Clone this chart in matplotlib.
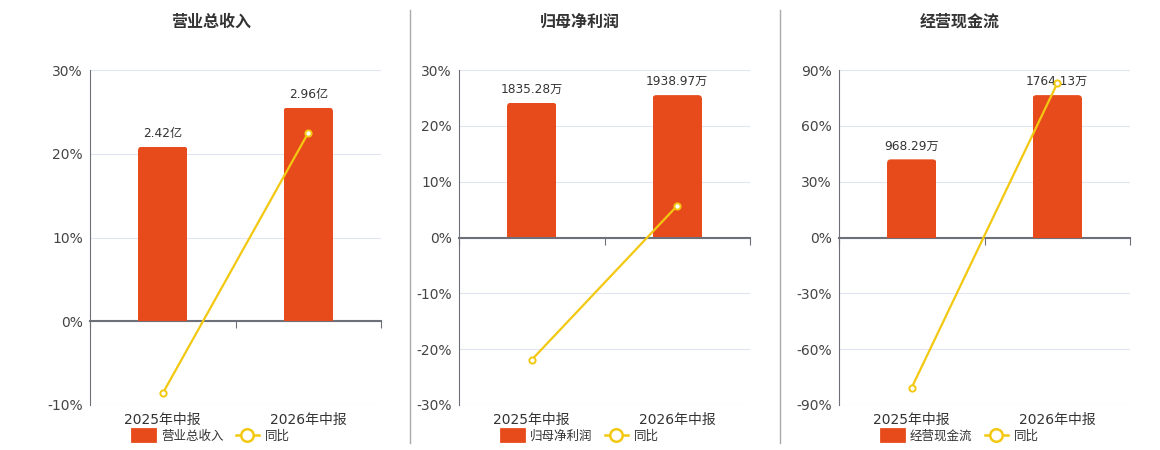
import matplotlib.pyplot as plt
import matplotlib.transforms as mtransforms
from matplotlib.lines import Line2D
from matplotlib.patches import Patch, FancyBboxPatch
import numpy as np

plt.rcParams['font.family'] = ['DejaVu Sans', 'Noto Sans CJK SC']

# data
categories = ['2025年中报', '2026年中报']
titles = ['营业总收入', '归母净利润', '经营现金流']
bar_values = [[2.42, 2.96], [1835.28, 1938.97], [968.29, 1764.13]]
bar_labels = [['2.42亿', '2.96亿'], ['1835.28万', '1938.97万'], ['968.29万', '1764.13万']]
yoy_values = [[-8.6, 22.5], [-21.9, 5.7], [-80.6, 82.8]]
pct_ticks = [[-10, 0, 10, 20, 30],
             [-30, -20, -10, 0, 10, 20, 30],
             [-90, -60, -30, 0, 30, 60, 90]]

BAR_COLOR = '#E84B1B'
LINE_COLOR = '#F2C811'
AXIS_COLOR = '#6E7079'
GRID_COLOR = '#E0E6F1'
TEXT_COLOR = '#333333'

W, H = 1160, 450
fig = plt.figure(figsize=(W / 100, H / 100), dpi=100)

panel_left = [90, 459, 839]
ax_w, ax_top, ax_bottom = 291, 70, 405
corner_px = 4

for i in range(3):
    left = panel_left[i]
    rect = [left / W, 1 - ax_bottom / H, ax_w / W, (ax_bottom - ax_top) / H]
    ax = fig.add_axes(rect)
    x = np.arange(len(categories))
    lo, hi = pct_ticks[i][0], pct_ticks[i][-1]
    xlim = (-0.5, len(categories) - 0.5)

    # percent axis with grid
    ax.set_xlim(*xlim)
    ax.set_ylim(lo, hi)
    ax.set_yticks(pct_ticks[i])
    ax.set_yticklabels(['%d%%' % t for t in pct_ticks[i]])
    ax.grid(axis='y', color=GRID_COLOR, linewidth=0.8)
    ax.set_axisbelow(True)
    ax.tick_params(axis='y', length=0, pad=5, labelsize=10, labelcolor='#444444')
    for s in ['top', 'right']:
        ax.spines[s].set_visible(False)
    ax.spines['left'].set_color(AXIS_COLOR)
    ax.spines['bottom'].set_position(('data', 0))
    ax.spines['bottom'].set_color(AXIS_COLOR)
    ax.spines['bottom'].set_linewidth(1.5)
    ax.set_xticks(np.arange(len(categories) + 1) - 0.5)
    ax.tick_params(axis='x', length=5, color=AXIS_COLOR, labelbottom=False)
    trans = mtransforms.blended_transform_factory(ax.transData, ax.transAxes)
    for xi, c in zip(x, categories):
        ax.text(xi, -0.025, c, transform=trans, ha='center', va='top',
                fontsize=10, color=TEXT_COLOR)

    # bars on a hidden axis, zero aligned with percent axis
    axb = ax.twinx()
    top = max(bar_values[i]) / 0.85
    axb.set_ylim(top * lo / hi, top)
    axb.set_xlim(*xlim)
    axb.axis('off')
    bars = axb.bar(x, bar_values[i], width=0.34, color=BAR_COLOR, zorder=2)
    xpp = (xlim[1] - xlim[0]) / ax_w
    ypp = (top - top * lo / hi) / (ax_bottom - ax_top)
    r = corner_px * xpp
    for b, lab in zip(bars, bar_labels[i]):
        # round the top corners by clipping the bar
        clip = FancyBboxPatch((b.get_x(), -b.get_height()), b.get_width(),
                              2 * b.get_height(),
                              boxstyle='round,pad=0,rounding_size=%f' % r,
                              mutation_aspect=ypp / xpp,
                              transform=axb.transData, visible=False)
        axb.add_patch(clip)
        b.set_clip_path(clip)
        axb.annotate(lab, (b.get_x() + b.get_width() / 2, b.get_height()),
                     xytext=(0, 5), textcoords='offset points',
                     ha='center', va='bottom', fontsize=8.7, color=TEXT_COLOR)

    # yoy line on top
    axl = ax.twinx()
    axl.set_ylim(lo, hi)
    axl.set_xlim(*xlim)
    axl.axis('off')
    axl.plot(x, yoy_values[i], color=LINE_COLOR, linewidth=1.6, marker='o',
             markersize=4.5, markerfacecolor='white', markeredgecolor=LINE_COLOR,
             markeredgewidth=1.4)

    cx = (left + 121) / W
    fig.text(cx, 1 - 22 / H, titles[i], ha='center', va='center',
             fontsize=11.5, fontweight='bold', color=TEXT_COLOR)
    handles = [Patch(facecolor=BAR_COLOR, edgecolor=BAR_COLOR, linewidth=2,
                     joinstyle='round'),
               Line2D([0], [0], color=LINE_COLOR, linewidth=1.8, marker='o',
                      markersize=9, markerfacecolor='white',
                      markeredgecolor=LINE_COLOR, markeredgewidth=1.8)]
    fig.legend(handles, [titles[i], '同比'], loc='center',
               bbox_to_anchor=(cx, 1 - 436 / H), ncol=2, frameon=False,
               fontsize=9, handlelength=1.8, handleheight=1.1,
               columnspacing=1.0, handletextpad=0.5, labelcolor=TEXT_COLOR)

# panel separators
for sx in [410, 780]:
    fig.add_artist(Line2D([sx / W, sx / W], [1 - 10 / H, 1 - 443 / H],
                          color='#AAAAAA', linewidth=1))

fig.savefig('out.png', dpi=100)
